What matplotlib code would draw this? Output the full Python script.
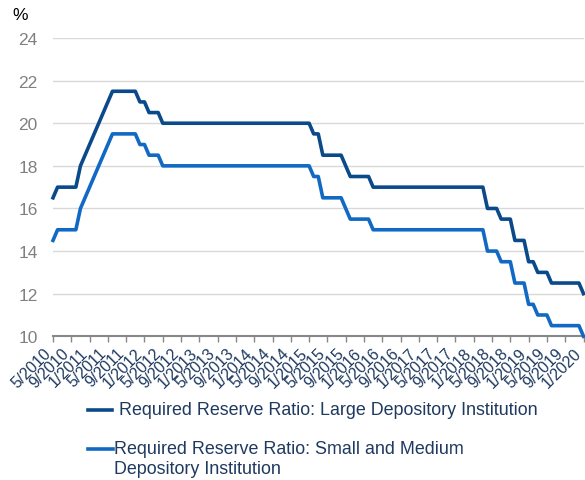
import numpy as np
import matplotlib
matplotlib.use('Agg')
import matplotlib.pyplot as plt
from matplotlib.lines import Line2D
from matplotlib.transforms import ScaledTranslation

plt.rcParams['font.family'] = ['Liberation Sans', 'DejaVu Sans']

# Taxa de reserva obrigatoria mensal, 5/2010 a 1/2020 (%)
large = [16.5, 17, 17, 17, 17, 17, 18, 18.5,
         19, 19.5, 20, 20.5, 21, 21.5, 21.5, 21.5, 21.5, 21.5, 21.5, 21,
         21, 20.5, 20.5, 20.5, 20, 20, 20, 20, 20, 20, 20, 20,
         20, 20, 20, 20, 20, 20, 20, 20, 20, 20, 20, 20,
         20, 20, 20, 20, 20, 20, 20, 20, 20, 20, 20, 20,
         20, 19.5, 19.5, 18.5, 18.5, 18.5, 18.5, 18.5, 18, 17.5, 17.5, 17.5,
         17.5, 17.5, 17, 17, 17, 17, 17, 17, 17, 17, 17, 17,
         17, 17, 17, 17, 17, 17, 17, 17, 17, 17, 17, 17,
         17, 17, 17, 16, 16, 16, 15.5, 15.5, 15.5, 14.5, 14.5, 14.5,
         13.5, 13.5, 13, 13, 13, 12.5, 12.5, 12.5, 12.5, 12.5, 12.5, 12.5,
         12]

small = [14.5, 15, 15, 15, 15, 15, 16, 16.5,
         17, 17.5, 18, 18.5, 19, 19.5, 19.5, 19.5, 19.5, 19.5, 19.5, 19,
         19, 18.5, 18.5, 18.5, 18, 18, 18, 18, 18, 18, 18, 18,
         18, 18, 18, 18, 18, 18, 18, 18, 18, 18, 18, 18,
         18, 18, 18, 18, 18, 18, 18, 18, 18, 18, 18, 18,
         18, 17.5, 17.5, 16.5, 16.5, 16.5, 16.5, 16.5, 16, 15.5, 15.5, 15.5,
         15.5, 15.5, 15, 15, 15, 15, 15, 15, 15, 15, 15, 15,
         15, 15, 15, 15, 15, 15, 15, 15, 15, 15, 15, 15,
         15, 15, 15, 14, 14, 14, 13.5, 13.5, 13.5, 12.5, 12.5, 12.5,
         11.5, 11.5, 11, 11, 11, 10.5, 10.5, 10.5, 10.5, 10.5, 10.5, 10.5,
         10]

tick_labels = ['5/2010', '9/2010', '1/2011', '5/2011', '9/2011', '1/2012',
               '5/2012', '9/2012', '1/2013', '5/2013', '9/2013', '1/2014',
               '5/2014', '9/2014', '1/2015', '5/2015', '9/2015', '1/2016',
               '5/2016', '9/2016', '1/2017', '5/2017', '9/2017', '1/2018',
               '5/2018', '9/2018', '1/2019', '5/2019', '9/2019', '1/2020']

label_large = 'Required Reserve Ratio: Large Depository Institution'
label_small = 'Required Reserve Ratio: Small and Medium'
label_small2 = 'Depository Institution'

dark = '#0b4a8a'
light = '#1169c4'
navy_txt = '#1f3a60'

fig = plt.figure(figsize=(5.85, 4.81), dpi=100)
ax = fig.add_axes([53 / 585, 1 - 337.3 / 481, 530.5 / 585, (337.3 - 39) / 481])

x = np.arange(len(large))
ax.plot(x, large, color=dark, lw=2.6, solid_joinstyle='round', clip_on=False)
ax.plot(x, small, color=light, lw=2.6, solid_joinstyle='round', clip_on=False)

ax.set_xlim(0, len(large) - 1)
ax.set_ylim(10, 24)
ax.set_yticks(np.arange(10, 25, 2))
ax.yaxis.grid(True, color='#d9d9d9', lw=1)
ax.set_axisbelow(True)
ax.tick_params(axis='y', length=0, labelsize=12.5, labelcolor='#808080', pad=11)

ax.set_xticks(np.arange(0, len(large), 4))
ax.set_xticklabels(tick_labels, rotation=45, ha='right', va='center',
                   rotation_mode='anchor', fontsize=11.5, color=navy_txt)
ax.tick_params(axis='x', length=4, width=1, color='#888888', direction='out', pad=6)
# desloca os rotulos um pouco para a esquerda
shift = ScaledTranslation(-0.045, 0, fig.dpi_scale_trans)
for lab in ax.get_xticklabels():
    lab.set_transform(lab.get_transform() + shift)

for s in ['top', 'right', 'left']:
    ax.spines[s].set_visible(False)
ax.spines['bottom'].set_color('#888888')
ax.spines['bottom'].set_linewidth(1.5)
ax.spines['bottom'].set_zorder(1)

fig.text(20 / 585, 1 - 15 / 481, '%', fontsize=12.5, color='black', ha='center', va='center')

# legenda manual
fig.add_artist(Line2D([88 / 585, 112 / 585], [1 - 411 / 481] * 2, color=dark, lw=2.6))
fig.text(119 / 585, 1 - 411 / 481, label_large, fontsize=12.9, color=navy_txt, va='center')
fig.add_artist(Line2D([88 / 585, 113 / 585], [1 - 450 / 481] * 2, color=light, lw=2.6))
fig.text(114 / 585, 1 - 450 / 481, label_small, fontsize=12.9, color=navy_txt, va='center')
fig.text(114 / 585, 1 - 470 / 481, label_small2, fontsize=12.9, color=navy_txt, va='center')

fig.savefig('out.png', dpi=100)
